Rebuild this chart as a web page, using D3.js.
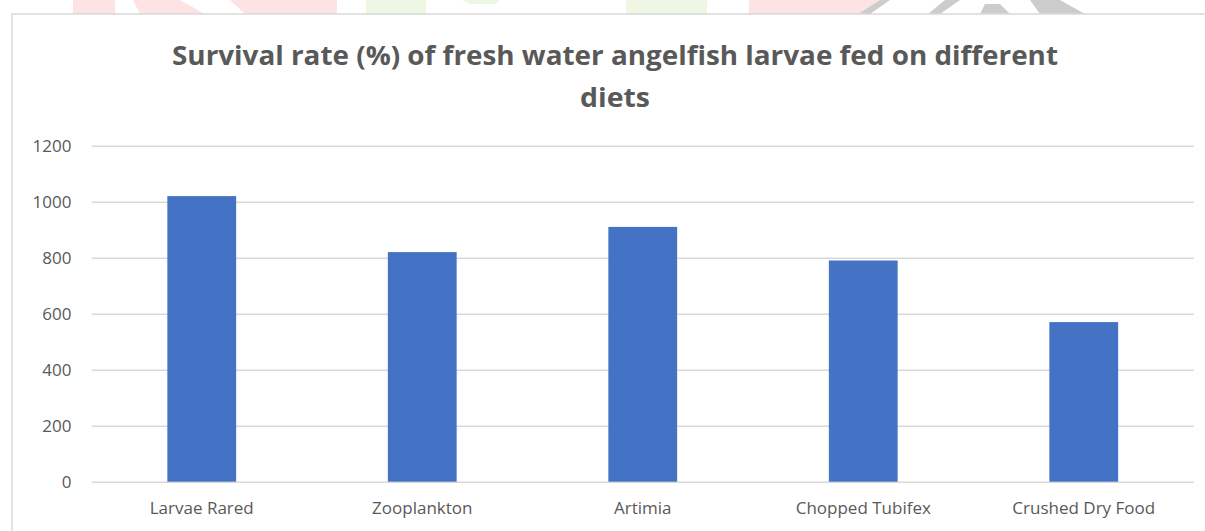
<!DOCTYPE html>
<html>
<head>
<meta charset="utf-8">
<script src="https://cdn.jsdelivr.net/npm/d3@7"></script>
<style>
  body { margin: 0; background: #fff; }
  svg { display: block; }
</style>
</head>
<body>
<div id="viz-container"></div>
<script>
// chart data
const diets = ["Larvae Rared", "Zooplankton", "Artimia", "Chopped Tubifex", "Crushed Dry Food"];
const survival = [1020, 820, 910, 790, 570];
const yTicks = [0, 200, 400, 600, 800, 1000, 1200];
const titleLines = ["Survival rate (%) of fresh water angelfish larvae fed on different", "diets"];

const width = 1205, height = 531;

let viz = d3.select("#viz-container")
    .append("svg")
    .attr("width", width)
    .attr("height", height)
    .style("font-family", "'Open Sans', sans-serif");

// faint watermark bits peeking above the chart frame
let wm = viz.append("g");
wm.append("rect").attr("x", 73).attr("y", 0).attr("width", 42).attr("height", 14).attr("fill", "#fde3e3");
wm.append("path").attr("d", "M133,0 L180,0 L205,14 L140,14 Z").attr("fill", "#fde3e3");
wm.append("path").attr("d", "M230,0 L337,0 L337,14 L245,14 Z").attr("fill", "#fde3e3");
wm.append("rect").attr("x", 366).attr("y", 0).attr("width", 60).attr("height", 14).attr("fill", "#eef6e4");
wm.append("path").attr("d", "M462,0 L500,0 L495,4 L470,4 Z").attr("fill", "#eef6e4");
wm.append("rect").attr("x", 626).attr("y", 0).attr("width", 81).attr("height", 14).attr("fill", "#eef6e4");
wm.append("path").attr("d", "M749,0 L880,0 L858,14 L749,14 Z").attr("fill", "#fde3e3");
wm.append("path").attr("d", "M880,0 L890,0 L870,14 L858,14 Z").attr("fill", "#cccccc");
wm.append("path").attr("d", "M945,0 L960,0 L940,14 L928,14 Z").attr("fill", "#cccccc");
wm.append("path").attr("d", "M985,4 L1000,4 L1010,14 L980,14 Z").attr("fill", "#cccccc");
wm.append("path").attr("d", "M1030,0 L1060,0 L1085,14 L1040,14 Z").attr("fill", "#cccccc");

// chart frame
viz.append("rect")
    .attr("x", 12).attr("y", 14)
    .attr("width", 1205).attr("height", 540)
    .attr("fill", "#fff")
    .attr("stroke", "#d9d9d9")
    .attr("stroke-width", 1.5);

// title
viz.selectAll(".title").data(titleLines).enter().append("text")
    .attr("class", "title")
    .attr("x", 615)
    .attr("y", (d, i) => 65 + i * 42)
    .attr("text-anchor", "middle")
    .attr("font-size", 27)
    .attr("font-weight", 700)
    .attr("fill", "#595959")
    .attr("textLength", (d, i) => i == 0 ? 886 : 70)
    .attr("lengthAdjust", "spacingAndGlyphs")
    .text(d => d);

const plot = { left: 91.5, right: 1194, top: 145.7, bottom: 481.7 };

let x = d3.scaleBand()
    .domain(diets)
    .range([plot.left, plot.right])
    .paddingInner(0.688)
    .paddingOuter(0.344);

let y = d3.scaleLinear()
    .domain([0, 1200])
    .range([plot.bottom, plot.top]);

// gridlines + value labels
let yAxis = viz.append("g")
    .attr("transform", "translate(" + plot.left + ",0)")
    .call(d3.axisLeft(y).tickValues(yTicks).tickFormat(d3.format("d"))
        .tickSize(-(plot.right - plot.left)).tickPadding(20));
yAxis.attr("font-family", null);
yAxis.select(".domain").remove();
yAxis.selectAll("line").attr("stroke", "#d9d9d9").attr("stroke-width", 1.5);
yAxis.selectAll("text")
    .attr("fill", "#595959")
    .attr("font-size", 17)
    .attr("dy", "0.35em");

// bars
viz.selectAll(".bar").data(survival).enter().append("rect")
    .attr("class", "bar")
    .attr("x", (d, i) => x(diets[i]))
    .attr("y", d => y(d))
    .attr("width", x.bandwidth())
    .attr("height", d => y(0) - y(d))
    .attr("fill", "#4472c4");

// category labels
let xAxis = viz.append("g")
    .attr("transform", "translate(0," + plot.bottom + ")")
    .call(d3.axisBottom(x).tickSize(0).tickPadding(20));
xAxis.attr("font-family", null);
xAxis.select(".domain").remove();
xAxis.selectAll("text")
    .attr("fill", "#595959")
    .attr("font-size", 17);
</script>
</body>
</html>
